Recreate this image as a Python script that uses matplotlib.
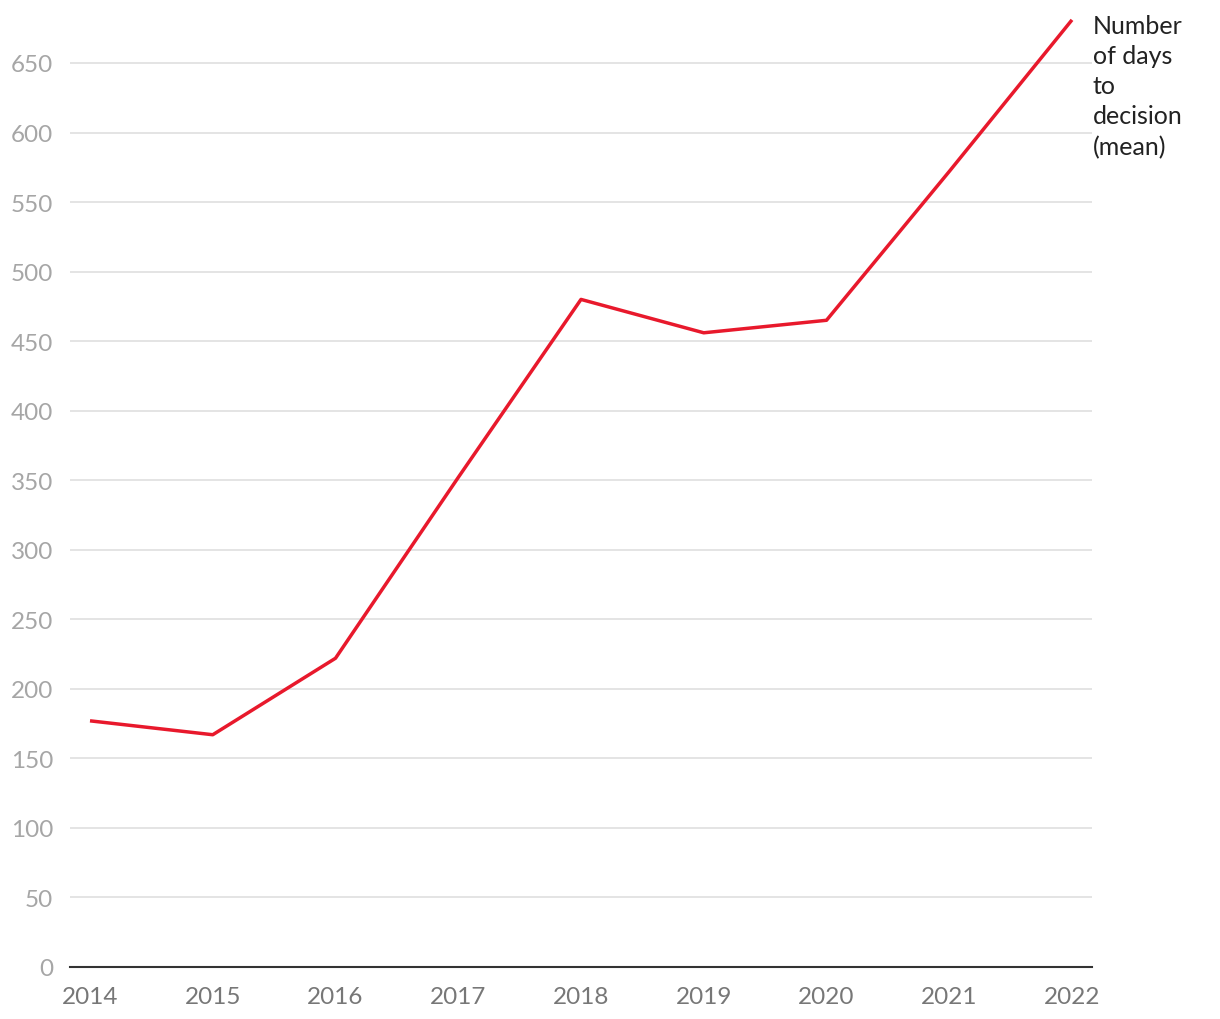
import numpy as np
import matplotlib.pyplot as plt

plt.rcParams['font.family'] = ['Lato', 'DejaVu Sans']

years = [2014, 2015, 2016, 2017, 2018, 2019, 2020, 2021, 2022]
days_mean = [177, 167, 222, 352, 480, 456, 465, 572, 681]
yticks = list(range(0, 651, 50))
series_label = 'Number\nof days\nto\ndecision\n(mean)'

red = '#e8192c'

fig = plt.figure(figsize=(12.2, 10.2), dpi=100)
ax = fig.add_axes([70/1220, 1-968/1020, (1092-70)/1220, 968/1020])

ax.plot(years, days_mean, color=red, lw=2.5, solid_capstyle='butt', zorder=3)

ax.set_xlim(2014 - 20/122.75, 2022 + 20/122.75)
ax.set_ylim(0, 968/69.54*50)
ax.set_yticks(yticks)
ax.set_xticks(years)
ax.grid(True, axis='y', color='#e2e2e2', lw=1.3)
ax.set_axisbelow(True)
for s in ['top', 'right', 'left']:
    ax.spines[s].set_visible(False)
ax.spines['bottom'].set_color('#333333')
ax.spines['bottom'].set_linewidth(1.5)
ax.spines['bottom'].set_zorder(4)
ax.tick_params(axis='y', length=0, pad=12, labelsize=17.5, labelcolor='#a6a6a6')
ax.tick_params(axis='x', length=0, pad=14, labelsize=17.5, labelcolor='#777777')

ax.annotate(series_label, xy=(years[-1], days_mean[-1]), xytext=(15, 4),
            textcoords='offset points', ha='left', va='top', fontsize=18,
            color='#222222', linespacing=1.37, annotation_clip=False)

fig.savefig('out.png', dpi=100)
